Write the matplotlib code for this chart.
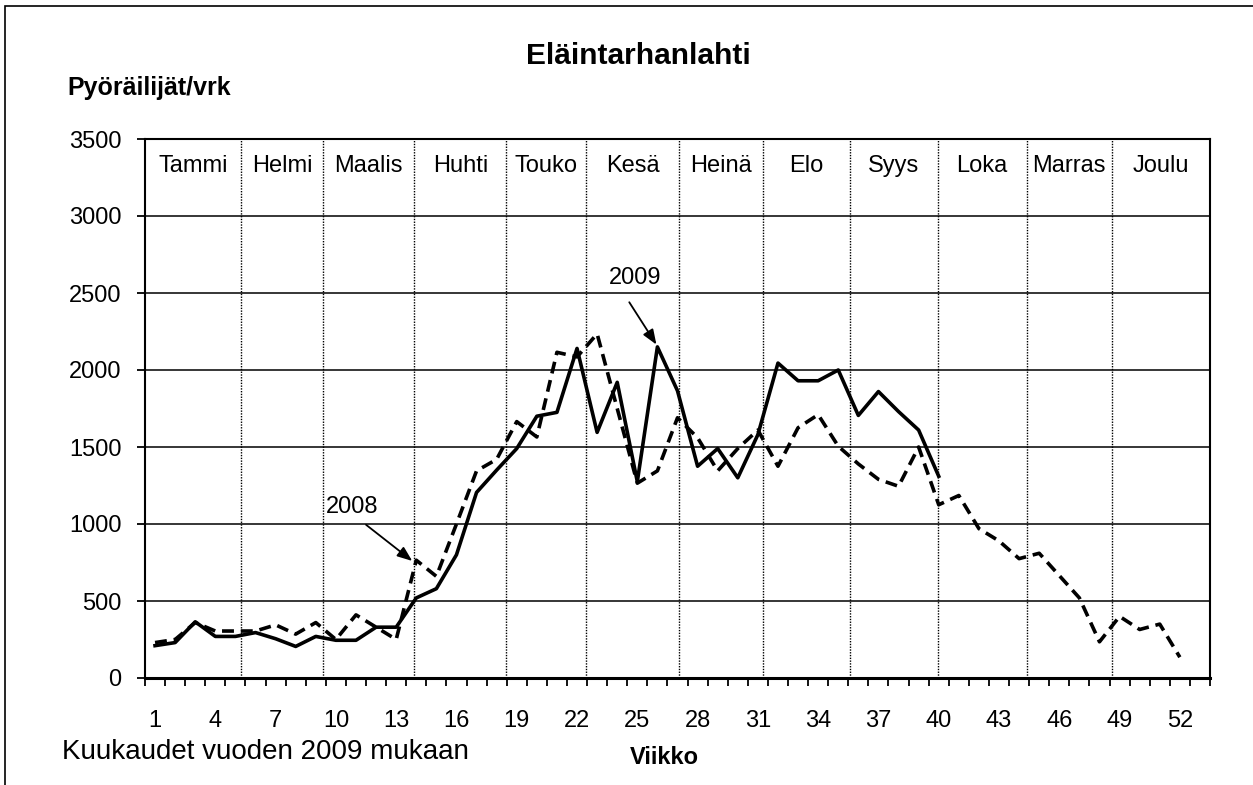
import matplotlib
matplotlib.use('Agg')
import matplotlib.pyplot as plt
from matplotlib.patches import Rectangle

plt.rcParams['font.family'] = ['Liberation Sans', 'DejaVu Sans']

# viikot 1-53 (akselilla 53 paikkaa)
weeks_2009 = list(range(1, 41))
y2009 = [210, 230, 365, 270, 270, 295, 255, 205, 270, 245,
         245, 330, 330, 520, 580, 800, 1205, 1350, 1490, 1700,
         1725, 2140, 1595, 1920, 1275, 2150, 1865, 1375, 1490, 1300,
         1580, 2045, 1930, 1930, 2000, 1705, 1860, 1730, 1610, 1310]

weeks_2008 = list(range(1, 53))
y2008 = [230, 250, 360, 305, 305, 305, 345, 285, 360, 250,
         410, 330, 250, 765, 660, 1000, 1345, 1420, 1665, 1565,
         2115, 2085, 2235, 1750, 1265, 1345, 1690, 1560, 1345, 1490,
         1610, 1375, 1625, 1710, 1505, 1390, 1290, 1245, 1500, 1125,
         1185, 970, 890, 775, 810, 665, 520, 235, 400, 315,
         350, 135]

months = ['Tammi', 'Helmi', 'Maalis', 'Huhti', 'Touko', 'Kesä',
          'Heinä', 'Elo', 'Syys', 'Loka', 'Marras', 'Joulu']
# kuukausien rajat viikkoakselilla
month_bounds = [5.30, 9.36, 13.91, 18.47, 22.44, 27.08,
                31.26, 35.57, 39.94, 44.38, 48.60]

xtick_weeks = list(range(1, 53, 3))
yticks = list(range(0, 3501, 500))

fig = plt.figure(figsize=(12.53, 7.85), dpi=100)
ax = fig.add_axes([145/1253, 107/785, 1065/1253, 539/785])

ax.set_xlim(0.5, 53.5)
ax.set_ylim(0, 3500)

for y in yticks[1:]:
    ax.axhline(y, color='black', lw=1.1, zorder=1)

for b in month_bounds:
    ax.axvline(b, color='black', lw=1.0, ls=(0, (1, 1)), zorder=1)

edges = [0.5] + month_bounds + [53.5]
for i, m in enumerate(months):
    ax.text((edges[i] + edges[i+1]) / 2, 3325, m, ha='center', va='center',
            fontsize=17)

ax.plot(weeks_2008, y2008, color='black', lw=2.6, ls=(0, (3.3, 1.9)), zorder=3)
ax.plot(weeks_2009, y2009, color='black', lw=2.6, zorder=4)

# nuolet
ax.text(24.9, 2600, '2009', ha='center', va='center', fontsize=17)
ax.annotate('', xy=(weeks_2009[25] - 0.05, y2009[25] + 15), xytext=(24.6, 2440),
            arrowprops=dict(arrowstyle='-|>,head_length=0.9,head_width=0.35',
                            color='black', lw=1.3, shrinkA=0, shrinkB=0))
ax.text(10.8, 1110, '2008', ha='center', va='center', fontsize=17)
ax.annotate('', xy=(weeks_2008[13] - 0.2, y2008[13] - 5), xytext=(11.5, 995),
            arrowprops=dict(arrowstyle='-|>,head_length=0.9,head_width=0.35',
                            color='black', lw=1.3, shrinkA=0, shrinkB=0))

ax.set_yticks(yticks)
ax.tick_params(axis='y', direction='out', length=6, width=1.3, pad=11,
               labelsize=17)
ax.set_xticks(xtick_weeks)
ax.set_xticks([w + 0.5 for w in range(0, 54)], minor=True)
ax.tick_params(axis='x', which='major', length=0, pad=23, labelsize=17)
ax.tick_params(axis='x', which='minor', direction='out', length=6, width=1.3)

for s in ['left', 'right', 'top']:
    ax.spines[s].set_linewidth(1.5)
ax.spines['bottom'].set_linewidth(2.2)

fig.text(638/1253, 1 - 56/785, 'Eläintarhanlahti', ha='center', va='center',
         fontsize=21.5, fontweight='bold')
fig.text(67/1253, 1 - 88/785, 'Pyöräilijät/vrk', ha='left', va='center',
         fontsize=18, fontweight='bold')
fig.text(62/1253, 1 - 752/785, 'Kuukaudet vuoden 2009 mukaan', ha='left',
         va='center', fontsize=20)
fig.text(664/1253, 1 - 757/785, 'Viikko', ha='center', va='center',
         fontsize=17, fontweight='bold')

fig.patches.append(Rectangle((5/1253, -0.05), 1.2, 1.05 - 6/785,
                             transform=fig.transFigure, fill=False,
                             edgecolor='black', lw=1.2))

fig.savefig('out.png', dpi=100)
